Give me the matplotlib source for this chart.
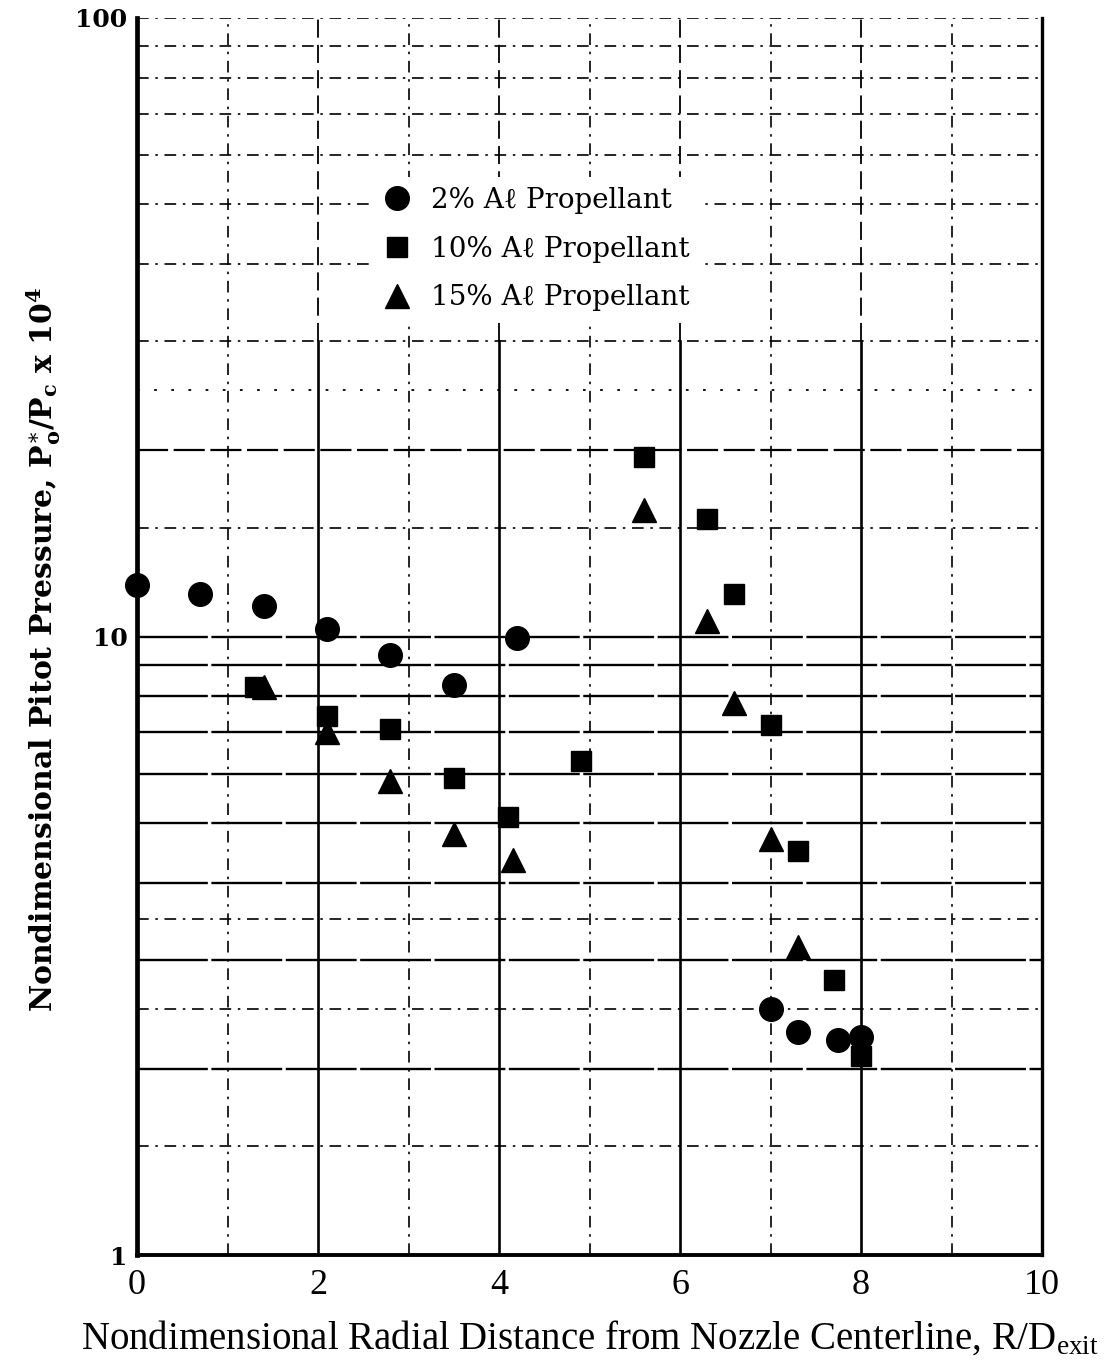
import matplotlib
matplotlib.use("Agg")
import matplotlib.pyplot as plt
from matplotlib.lines import Line2D
import numpy as np

# ---------------- data ----------------
circ_x = [0.0, 0.7, 1.4, 2.1, 2.8, 3.5, 4.2, 7.0, 7.3, 7.75, 8.0]
circ_y = [12.1, 11.7, 11.2, 10.3, 9.35, 8.35, 9.95, 2.5, 2.29, 2.23, 2.25]

sq_x = [1.3, 2.1, 2.8, 3.5, 4.1, 4.9, 5.6, 6.3, 6.6, 7.0, 7.3, 7.7, 8.0]
sq_y = [8.28, 7.45, 7.1, 5.9, 5.1, 6.3, 19.5, 15.5, 11.7, 7.2, 4.5, 2.78, 2.1]

tri_x = [1.4, 2.1, 2.8, 3.5, 4.15, 5.6, 6.3, 6.6, 7.0, 7.3]
tri_y = [8.3, 7.0, 5.85, 4.8, 4.35, 16.0, 10.6, 7.8, 4.7, 3.15]

labels = ["2% A\u2113 Propellant", "10% A\u2113 Propellant", "15% A\u2113 Propellant"]

x_ticks = [0, 2, 4, 6, 8, 10]
y_ticks = [1, 10, 100]
y_ticklabels = ["1", "10", "100"]

# graph-paper lines
h_solid = [2, 3, 4, 5, 6, 7, 8, 9, 10]
h_dashdot = [1.5, 2.5, 3.5, 15, 30, 40, 50, 60, 70, 80, 90, 100]
h_dashed = [20]
h_dotted = [25]
v_solid = [2, 4, 6, 8]
v_dashdot = [1, 3, 5, 7, 9]

plt.rcParams["mathtext.fontset"] = "custom"
plt.rcParams["mathtext.rm"] = "Liberation Serif"
plt.rcParams["mathtext.it"] = "Liberation Serif:italic"
plt.rcParams["mathtext.bf"] = "Liberation Serif:bold"
SERIF = ["Liberation Serif", "DejaVu Serif", "DejaVu Sans"]
WIDE = ["DejaVu Serif", "Liberation Serif", "DejaVu Sans"]
plt.rcParams["font.family"] = SERIF

fig = plt.figure(figsize=(11.06, 13.63), dpi=100)
ax = fig.add_axes([0.1239, 0.0792, 0.8183, 0.9076])
ax.set_yscale("log")
ax.set_xlim(0, 10)
ax.set_ylim(1, 100)

dd = (0, (7, 4, 1.5, 4))
for v in h_solid:
    ax.axhline(v, color="black", lw=1.7, ls=(0, (30, 1.5)), zorder=1)
for v in h_dashdot:
    ax.axhline(v, color="black", lw=1.2, ls=dd, zorder=1)
for v in h_dashed:
    ax.axhline(v, color="black", lw=1.6, ls=(0, (14, 2.5)), zorder=1)
for v in h_dotted:
    ax.axhline(v, color="black", lw=1.3, ls=(0, (1.5, 8)), zorder=1)

split = np.log10(30) / 2.0
for v in v_solid:
    ax.axvline(v, ymin=0, ymax=split, color="black", lw=1.9, zorder=1)
    ax.axvline(v, ymin=split, ymax=1, color="black", lw=1.3, ls=(0, (10, 4)), zorder=1)
for v in v_dashdot:
    ax.axvline(v, color="black", lw=1.2, ls=dd, zorder=1)

# data
ax.plot(circ_x, circ_y, ls="none", marker="o", ms=17, color="black", clip_on=False, zorder=5)
ax.plot(sq_x, sq_y, ls="none", marker="s", ms=14.5, color="black", clip_on=False, zorder=5)
ax.plot(tri_x, tri_y, ls="none", marker="^", ms=17, color="black", clip_on=False, zorder=5)

# spines
ax.spines["top"].set_visible(False)
ax.spines["left"].set_linewidth(3.4)
ax.spines["bottom"].set_linewidth(2.8)
ax.spines["right"].set_linewidth(2.4)

ax.set_xticks(x_ticks)
ax.set_xticklabels([str(t) for t in x_ticks], fontsize=26)
ax.set_yticks(y_ticks)
ax.set_yticklabels(y_ticklabels, fontsize=18, fontweight="bold", family=WIDE)
ax.yaxis.set_minor_locator(matplotlib.ticker.NullLocator())
ax.tick_params(axis="x", length=0, pad=10)
ax.tick_params(axis="y", which="major", length=0, pad=7)

ax.set_xlabel(r"Nondimensional Radial Distance from Nozzle Centerline, R/D$_{\mathrm{exit}}$",
              fontsize=28, labelpad=12)
ax.set_ylabel(r"Nondimensional Pitot Pressure, P$^{\ast}_{\mathbf{o}}$/P$_{\mathbf{c}}$ x 10$^{\mathbf{4}}$",
              fontsize=21.5, fontweight="bold", family=WIDE, math_fontfamily="dejavuserif")
ax.yaxis.set_label_coords(-0.082, 0.49)

handles = [
    Line2D([], [], ls="none", marker="o", ms=17, color="black"),
    Line2D([], [], ls="none", marker="s", ms=14.5, color="black"),
    Line2D([], [], ls="none", marker="^", ms=17, color="black"),
]
leg = ax.legend(handles, labels, loc="upper left", bbox_to_anchor=(0.246, 0.8825),
                frameon=True, facecolor="white", edgecolor="none", framealpha=1.0,
                handlelength=1.0, handletextpad=0.7,
                labelspacing=0.78, borderpad=0.35,
                prop={"family": WIDE, "size": 20})
leg.set_zorder(4)

fig.savefig("out.png", dpi=100, facecolor="white")
